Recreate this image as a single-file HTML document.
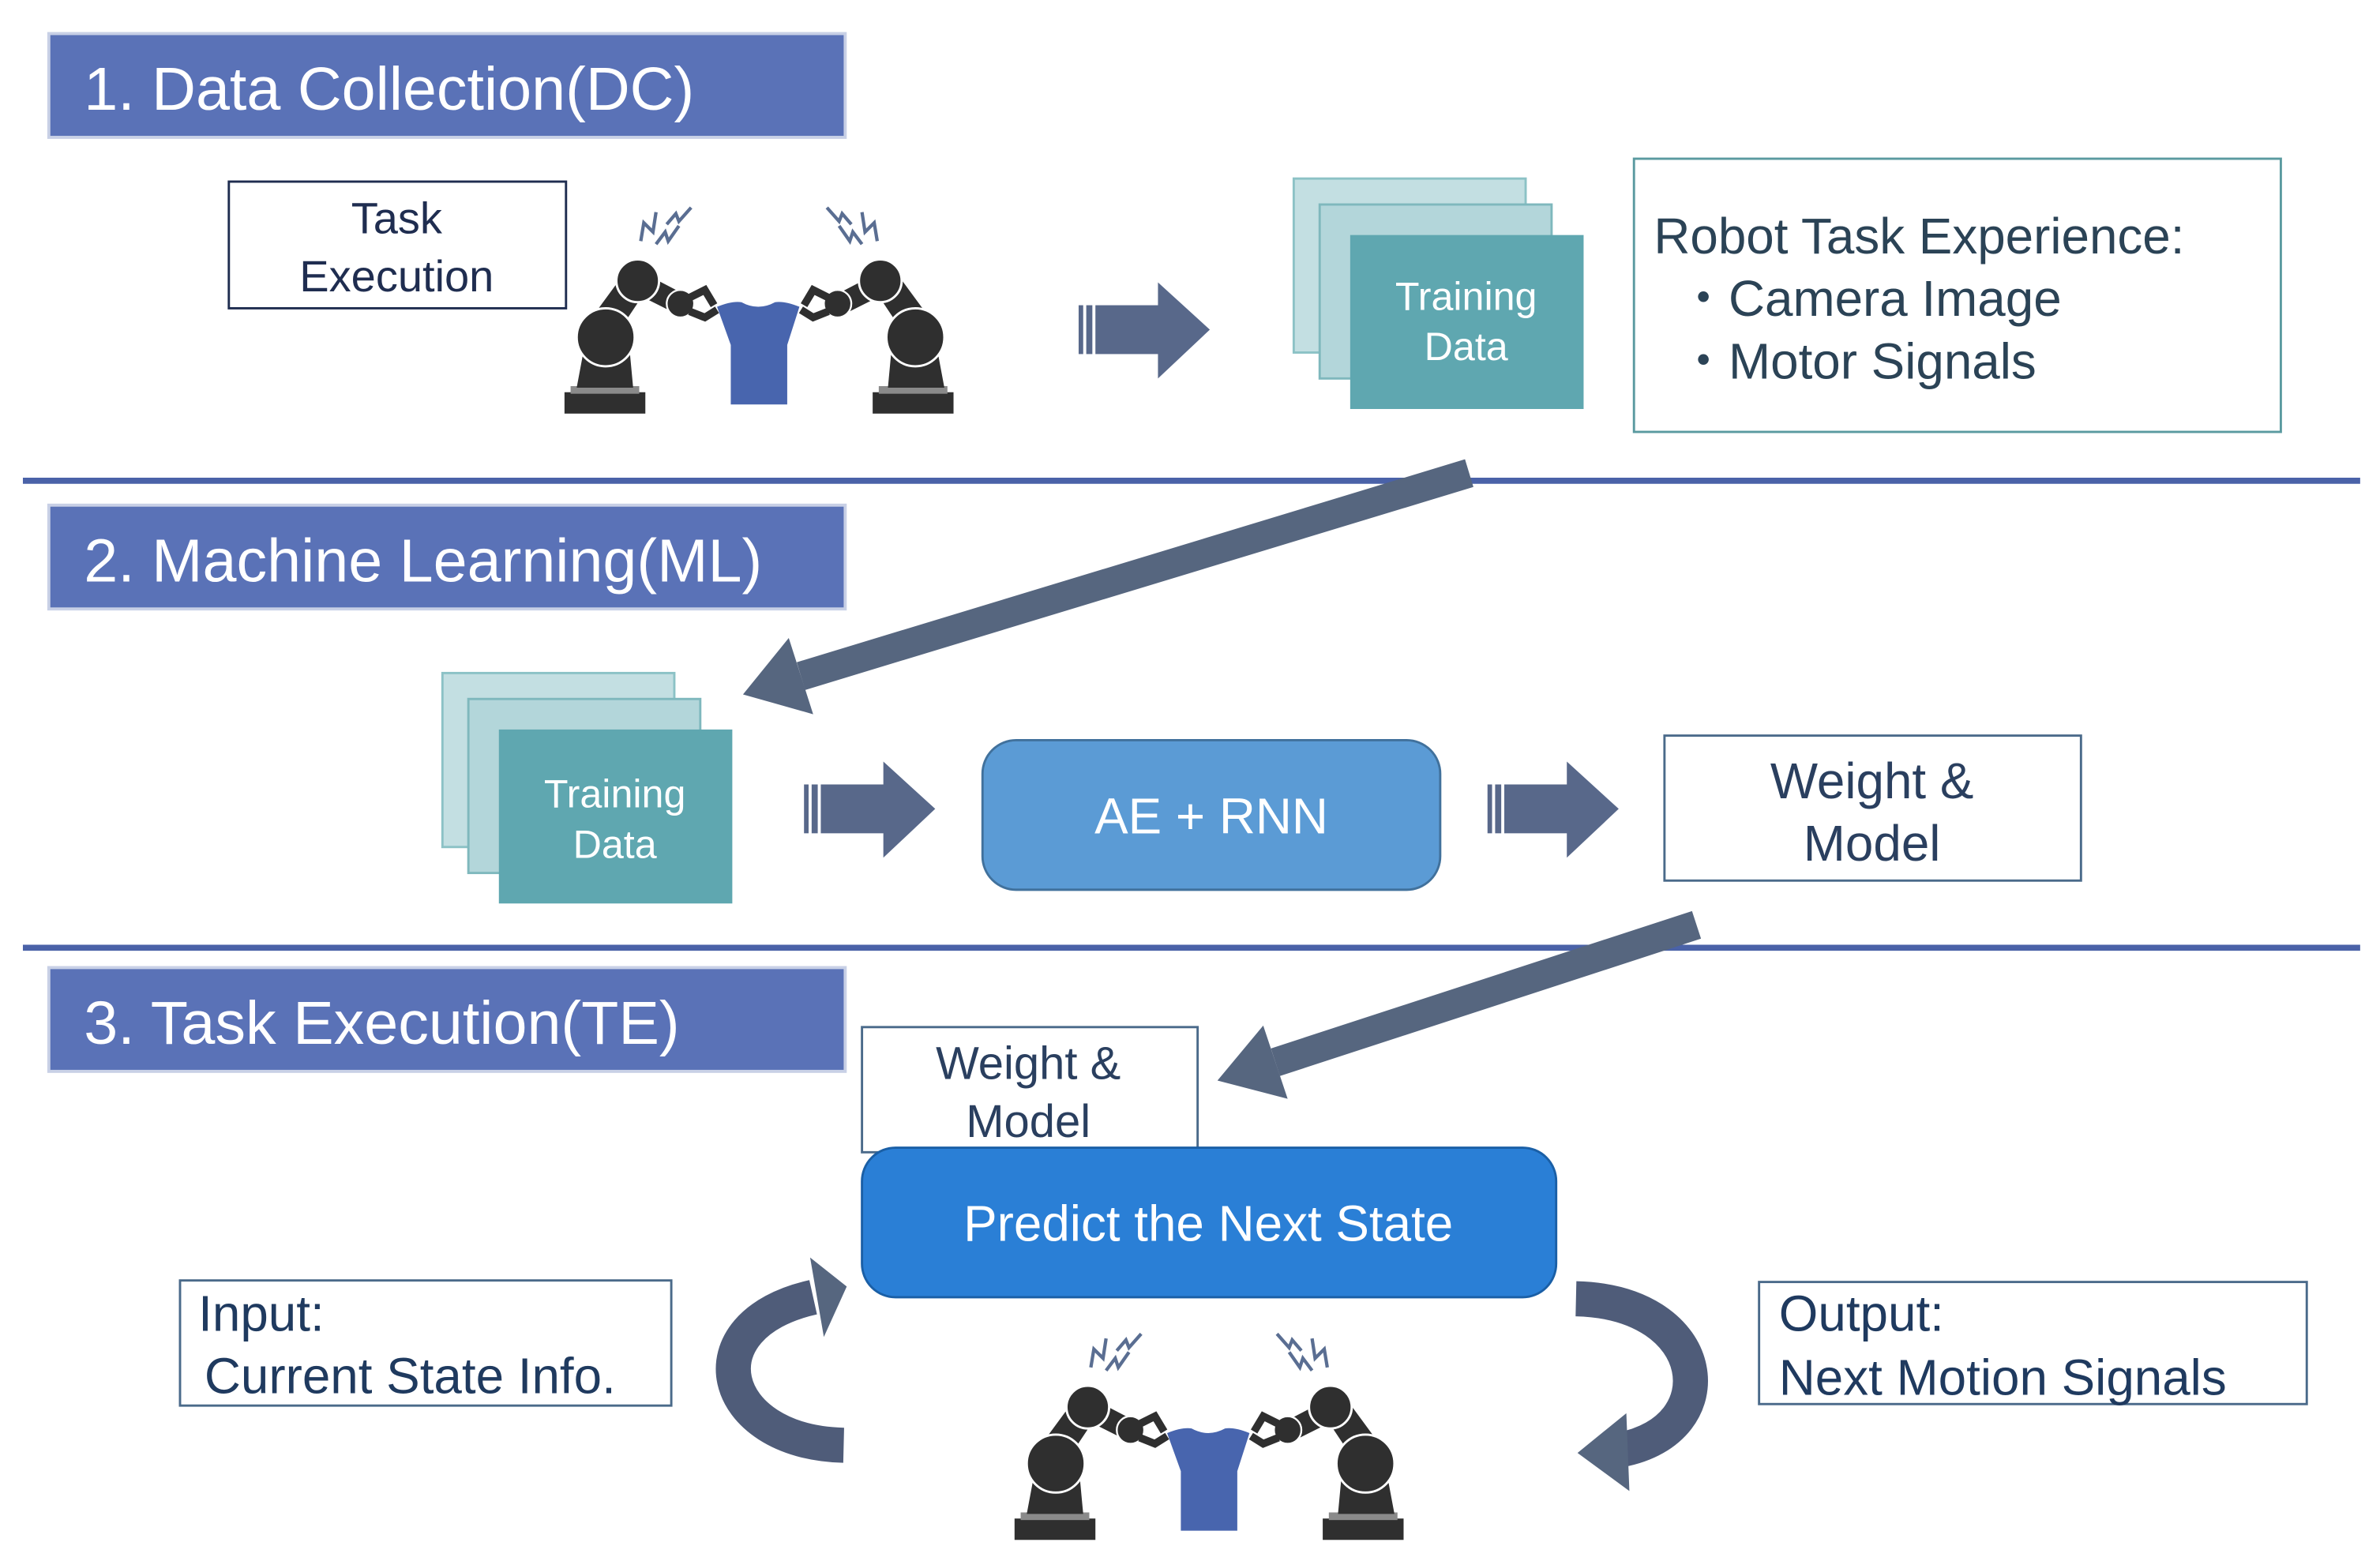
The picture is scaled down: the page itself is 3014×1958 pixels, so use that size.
<!DOCTYPE html>
<html><head><meta charset="utf-8">
<style>
html,body{margin:0;padding:0;background:#fff;}
svg{display:block;}
text{font-family:"Liberation Sans","Noto Sans CJK JP",sans-serif;}
</style></head>
<body>
<svg width="3014" height="1958" viewBox="0 0 1560 1013" preserveAspectRatio="none" xmlns="http://www.w3.org/2000/svg">
<defs>
<g id="robot">
  <!-- left robot -->
  <rect x="370" y="257" width="53" height="14" fill="#2f2f2f"/>
  <rect x="374" y="253" width="45" height="5" fill="#8a8a8a"/>
  <polygon points="378,254 415,254 412,222 384,222" fill="#2f2f2f"/>
  <polygon points="385,212 405,218 425,188 410,178" fill="#2f2f2f"/>
  <circle cx="397" cy="221" r="19" fill="#2f2f2f" stroke="#fff" stroke-width="1.5"/>
  <polygon points="420,178 447,192 442,205 416,192" fill="#2f2f2f"/>
  <circle cx="418" cy="184" r="14" fill="#2f2f2f" stroke="#fff" stroke-width="1.5"/>
  <circle cx="446" cy="199" r="9" fill="#2f2f2f" stroke="#fff" stroke-width="1.2"/>
  <polyline points="452,195 462,190 468,200" fill="none" stroke="#2f2f2f" stroke-width="5"/>
  <polyline points="452,204 462,208 470,203" fill="none" stroke="#2f2f2f" stroke-width="5"/>
  <!-- right robot -->
  <rect x="572" y="257" width="53" height="14" fill="#2f2f2f"/>
  <rect x="576" y="253" width="45" height="5" fill="#8a8a8a"/>
  <polygon points="582,254 619,254 613,222 585,222" fill="#2f2f2f"/>
  <polygon points="612,212 592,218 572,188 587,178" fill="#2f2f2f"/>
  <circle cx="600" cy="221" r="19" fill="#2f2f2f" stroke="#fff" stroke-width="1.5"/>
  <polygon points="577,178 550,192 555,205 581,192" fill="#2f2f2f"/>
  <circle cx="577" cy="184" r="14" fill="#2f2f2f" stroke="#fff" stroke-width="1.5"/>
  <circle cx="549" cy="199" r="9" fill="#2f2f2f" stroke="#fff" stroke-width="1.2"/>
  <polyline points="543,195 533,190 527,200" fill="none" stroke="#2f2f2f" stroke-width="5"/>
  <polyline points="543,204 533,208 525,203" fill="none" stroke="#2f2f2f" stroke-width="5"/>
  <!-- shirt -->
  <path d="M470,201 Q480,197 486,198 Q497,204 508,198 Q514,197 524,201 L516,226 L516,265 L479,265 L479,226 Z" fill="#4865ae"/>
  <!-- sparks -->
  <g fill="none" stroke="#5a6e92" stroke-width="2.2">
    <polyline points="420,158 422,146 428,152 430,139"/>
    <polyline points="430,160 436,152 438,158 445,148"/>
    <polyline points="437,147 443,140 445,145 453,136"/>
    <polyline points="575,158 573,146 567,152 565,139"/>
    <polyline points="565,160 559,152 557,158 550,148"/>
    <polyline points="558,147 552,140 550,145 542,136"/>
  </g>
</g>
<g id="barrow">
  <rect x="0" y="15" width="3" height="32" fill="#58688a"/>
  <rect x="5" y="15" width="4" height="32" fill="#58688a"/>
  <rect x="11" y="15" width="42" height="32" fill="#58688a"/>
  <polygon points="52,0 86,31 52,63" fill="#58688a"/>
</g>
</defs>

<!-- separators -->
<line x1="15" y1="315" x2="1547" y2="315" stroke="#4a62a8" stroke-width="4"/>
<line x1="15" y1="621" x2="1547" y2="621" stroke="#4a62a8" stroke-width="4"/>

<!-- headers -->
<rect x="32" y="22" width="522" height="68" fill="#5a72b7" stroke="#c8d0e6" stroke-width="2"/>
<text x="55" y="72" font-size="40" fill="#fff">1. Data Collection(DC)</text>
<rect x="32" y="331" width="522" height="68" fill="#5a72b7" stroke="#c8d0e6" stroke-width="2"/>
<text x="55" y="381" font-size="40" fill="#fff">2. Machine Learning(ML)</text>
<rect x="32" y="634" width="522" height="68" fill="#5a72b7" stroke="#c8d0e6" stroke-width="2"/>
<text x="55" y="684" font-size="40" fill="#fff">3. Task Execution(TE)</text>

<!-- section 1 -->
<rect x="150" y="119" width="221" height="83" fill="#fff" stroke="#1f2d50" stroke-width="1.5"/>
<text x="260" y="153" font-size="29" fill="#1f2d50" text-anchor="middle">Task</text>
<text x="260" y="191" font-size="29" fill="#1f2d50" text-anchor="middle">Execution</text>
<use href="#robot"/>
<use href="#barrow" transform="translate(707,185)"/>

<rect x="848" y="117" width="152" height="114" fill="#c3dfe2" stroke="#8cc2c6" stroke-width="1.5"/>
<rect x="865" y="134" width="152" height="114" fill="#b3d6da" stroke="#7fb8bd" stroke-width="1.5"/>
<rect x="885" y="154" width="153" height="114" fill="#5fa7b0"/>
<text x="961" y="203" font-size="26" fill="#fff" text-anchor="middle">Training</text>
<text x="961" y="236" font-size="26" fill="#fff" text-anchor="middle">Data</text>

<rect x="1071" y="104" width="424" height="179" fill="#fff" stroke="#5a9aa0" stroke-width="1.5"/>
<text x="1084" y="166" font-size="33" fill="#2b4356">Robot Task Experience:</text>
<text x="1100" y="207" font-size="33" fill="#2b4356">・Camera Image</text>
<text x="1100" y="248" font-size="33" fill="#2b4356">・Motor Signals</text>

<!-- diagonal arrow 1 -->
<line x1="963" y1="310" x2="525" y2="443" stroke="#56667f" stroke-width="19"/>
<polygon points="487,455 533,468 517,418" fill="#56667f"/>

<!-- section 2 -->
<rect x="290" y="441" width="152" height="114" fill="#c3dfe2" stroke="#8cc2c6" stroke-width="1.5"/>
<rect x="307" y="458" width="152" height="114" fill="#b3d6da" stroke="#7fb8bd" stroke-width="1.5"/>
<rect x="327" y="478" width="153" height="114" fill="#5fa7b0"/>
<text x="403" y="529" font-size="26" fill="#fff" text-anchor="middle">Training</text>
<text x="403" y="562" font-size="26" fill="#fff" text-anchor="middle">Data</text>

<use href="#barrow" transform="translate(527,499)"/>
<rect x="644" y="485" width="300" height="98" rx="22" fill="#5b9bd5" stroke="#41719c" stroke-width="1.5"/>
<text x="794" y="546" font-size="33" fill="#fff" text-anchor="middle">AE + RNN</text>
<use href="#barrow" transform="translate(975,499)"/>

<rect x="1091" y="482" width="273" height="95" fill="#fff" stroke="#4a6a8a" stroke-width="1.5"/>
<text x="1227" y="523" font-size="33" fill="#2a3f5f" text-anchor="middle">Weight &amp;</text>
<text x="1227" y="564" font-size="33" fill="#2a3f5f" text-anchor="middle">Model</text>

<!-- diagonal arrow 2 -->
<line x1="1112" y1="606" x2="836" y2="696" stroke="#56667f" stroke-width="19"/>
<polygon points="798,708 844,720 828,672" fill="#56667f"/>

<!-- section 3 -->
<rect x="565" y="673" width="220" height="82" fill="#fff" stroke="#4a6a8a" stroke-width="1.5"/>
<text x="674" y="707" font-size="30" fill="#2a3f5f" text-anchor="middle">Weight &amp;</text>
<text x="674" y="745" font-size="30" fill="#2a3f5f" text-anchor="middle">Model</text>

<rect x="565" y="752" width="455" height="98" rx="22" fill="#2a7fd6" stroke="#1a5fa6" stroke-width="1.5"/>
<text x="792" y="813" font-size="33" fill="#fff" text-anchor="middle">Predict the Next State</text>

<rect x="118" y="839" width="322" height="82" fill="#fff" stroke="#4a6a8a" stroke-width="1.5"/>
<text x="130" y="872" font-size="33" fill="#1f3a5f">Input:</text>
<text x="134" y="913" font-size="33" fill="#1f3a5f">Current State Info.</text>

<rect x="1153" y="840" width="359" height="80" fill="#fff" stroke="#4a6a8a" stroke-width="1.5"/>
<text x="1166" y="872" font-size="33" fill="#1f3a5f">Output:</text>
<text x="1166" y="914" font-size="33" fill="#1f3a5f">Next Motion Signals</text>

<!-- curved arrows -->
<path d="M553,947 C470,945 452,868 533,850" fill="none" stroke="#4f5c79" stroke-width="23"/>
<polygon points="555,843 531,824 540,876" fill="#56667f"/>
<path d="M1033,851 C1122,853 1132,937 1062,950" fill="none" stroke="#4f5c79" stroke-width="23"/>
<polygon points="1034,952 1066,926 1068,977" fill="#56667f"/>

<use href="#robot" transform="translate(295,738)"/>
</svg>
</body></html>
